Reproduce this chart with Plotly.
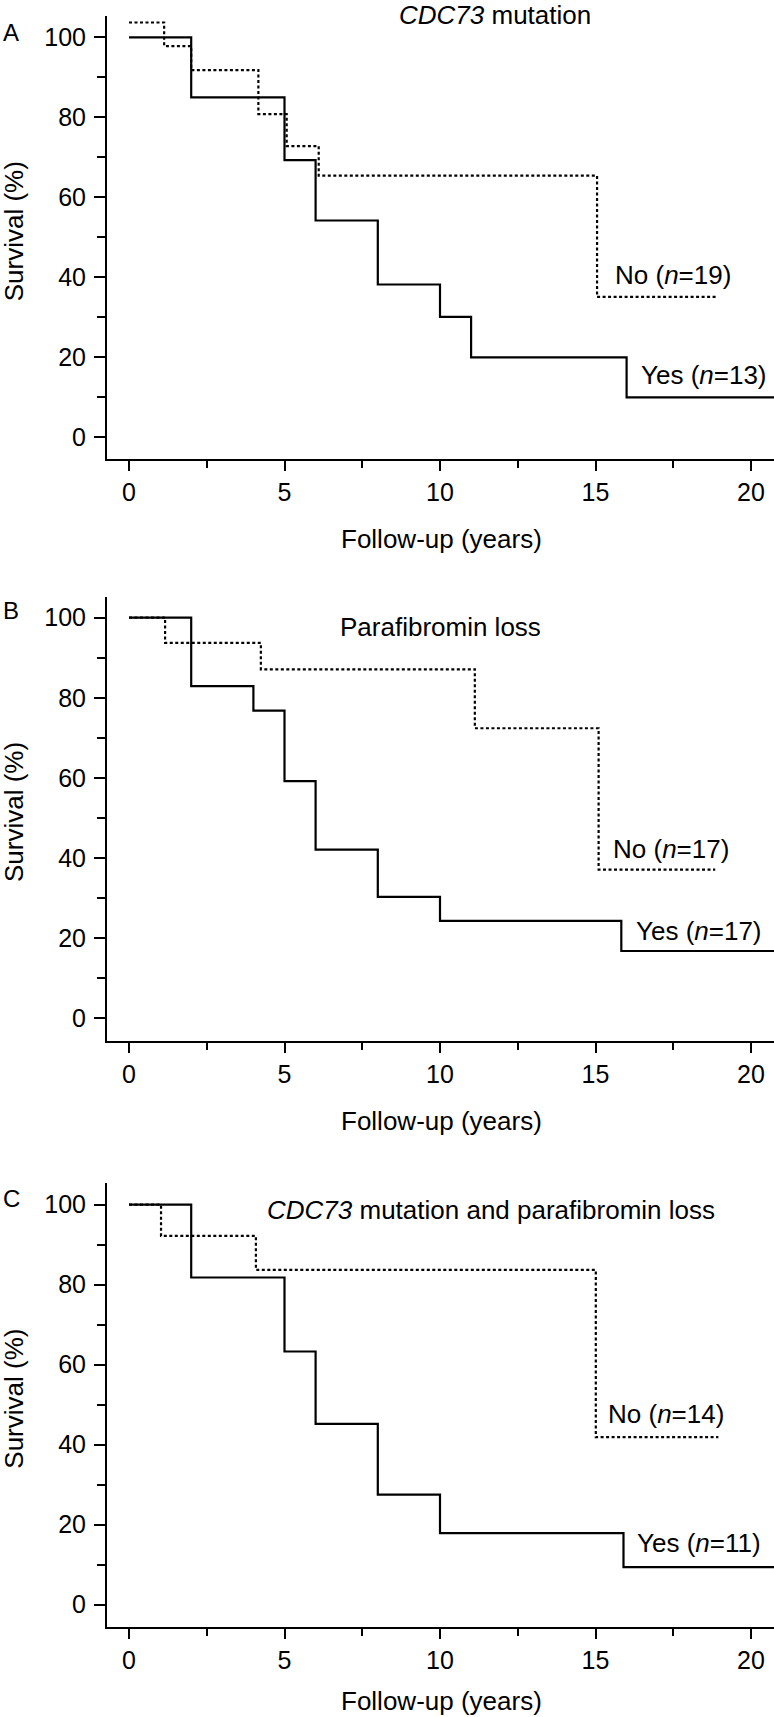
import plotly.graph_objects as go

# ---------------- data ----------------
# Panel A: CDC73 mutation
a_yes_t = [0, 2, 5, 6, 8, 10, 11, 16, 21]
a_yes_s = [100, 85, 69.3, 54.2, 38.2, 30.1, 20, 10, 10]
a_no_t = [0, 1.13, 2.0, 4.16, 5.07, 6.1, 15.05, 18.9]
a_no_s = [103.7, 97.8, 91.8, 80.8, 72.8, 65.4, 35.1, 35.1]

# Panel B: Parafibromin loss
b_yes_t = [0, 2, 4, 5, 6, 8, 10, 15.83, 21]
b_yes_s = [100, 82.9, 76.8, 59.2, 42.1, 30.3, 24.3, 16.8, 16.8]
b_no_t = [0, 1.16, 4.24, 11.12, 15.1, 18.85]
b_no_s = [100, 93.7, 87.1, 72.4, 37.1, 37.1]

# Panel C: CDC73 mutation and parafibromin loss
c_yes_t = [0, 2, 5, 6, 8, 10, 15.9, 21]
c_yes_s = [100, 81.8, 63.3, 45.2, 27.5, 17.9, 9.4, 9.4]
c_no_t = [0, 1.03, 4.08, 15.01, 18.95]
c_no_s = [100, 92.2, 83.7, 41.9, 41.9]

panel_letters = ["A", "B", "C"]
panel_titles = ["<i>CDC73</i> mutation", "Parafibromin loss",
                "<i>CDC73</i> mutation and parafibromin loss"]
no_labels = ["No (<i>n</i>=19)", "No (<i>n</i>=17)", "No (<i>n</i>=14)"]
yes_labels = ["Yes (<i>n</i>=13)", "Yes (<i>n</i>=17)", "Yes (<i>n</i>=11)"]
x_ticks = [0, 5, 10, 15, 20]
y_ticks = [0, 20, 40, 60, 80, 100]
x_title = "Follow-up (years)"
y_title = "Survival (%)"

# ---------------- layout geometry ----------------
W, H = 774, 1717
FONT = "Liberation Sans, Arial, Helvetica, sans-serif"
boxes = [(16, 459.3), (596.7, 1040.7), (1183.3, 1627.0)]
zero_px = [437.3, 1018.3, 1604.7]
px_per_unit = [4.0, 4.006, 4.0]
x_left_px, x0_px, px_per_year = 107, 129, 31.1
x_title_off = [80, 80, 74]

x_range = [(x_left_px - x0_px) / px_per_year, (W - x0_px) / px_per_year]

fig = go.Figure()

series = [
    (a_yes_t, a_yes_s, a_no_t, a_no_s),
    (b_yes_t, b_yes_s, b_no_t, b_no_s),
    (c_yes_t, c_yes_s, c_no_t, c_no_s),
]

title_px = [(397, 15), (338, 627), (265, 1210)]
no_pos = [(15.56, 40.6), (15.5, 42.2), (15.34, 47.7)]
yes_pos = [(16.4, 15.6), (16.24, 21.9), (16.27, 15.35)]
letter_py = [32, 610, 1198]

annotations = []
for i, (yt, ys, nt, ns) in enumerate(series):
    k = "" if i == 0 else str(i + 1)
    xa, ya = "x" + k, "y" + k
    fig.add_trace(go.Scatter(x=nt, y=ns, mode="lines", line_shape="hv",
                             line=dict(color="black", width=2.2, dash="3px,2.5px"),
                             xaxis=xa, yaxis=ya, showlegend=False, hoverinfo="skip"))
    fig.add_trace(go.Scatter(x=yt, y=ys, mode="lines", line_shape="hv",
                             line=dict(color="black", width=2.2),
                             xaxis=xa, yaxis=ya, showlegend=False, hoverinfo="skip"))
    top, bot = boxes[i]
    z = zero_px[i]
    ppu = px_per_unit[i]
    y_range = [(z - bot) / ppu, (z - top) / ppu]
    axis_common = dict(showline=True, linewidth=2, linecolor="black",
                       ticks="outside", tickwidth=2, tickcolor="black",
                       showgrid=False, zeroline=False,
                       tickfont=dict(family=FONT, size=25, color="black"))
    fig.layout["xaxis" + k] = dict(
        domain=[x_left_px / W, 1.0], range=x_range, anchor=ya,
        tickmode="array", tickvals=x_ticks, ticktext=[str(v) for v in x_ticks],
        ticklen=10, ticklabelstandoff=0,
        minor=dict(dtick=2.5, tick0=0, ticks="outside", ticklen=7, tickwidth=2,
                   tickcolor="black", showgrid=False),
        **axis_common)
    fig.layout["yaxis" + k] = dict(
        domain=[1 - bot / H, 1 - top / H], range=y_range, anchor=xa,
        tickmode="array", tickvals=y_ticks, ticktext=[str(v) for v in y_ticks],
        ticklen=11, ticklabelstandoff=3,
        minor=dict(dtick=10, tick0=0, ticks="outside", ticklen=8, tickwidth=2,
                   tickcolor="black", showgrid=False),
        **axis_common)

    txt = dict(family=FONT, size=26, color="black")
    annotations.append(dict(x=title_px[i][0] / W, y=1 - title_px[i][1] / H,
                            xref="paper", yref="paper",
                            text=panel_titles[i], showarrow=False, xanchor="left",
                            yanchor="middle", font=txt))
    annotations.append(dict(x=no_pos[i][0], y=no_pos[i][1], xref=xa, yref=ya,
                            text=no_labels[i], showarrow=False, xanchor="left",
                            yanchor="middle", font=txt))
    annotations.append(dict(x=yes_pos[i][0], y=yes_pos[i][1], xref=xa, yref=ya,
                            text=yes_labels[i], showarrow=False, xanchor="left",
                            yanchor="middle", font=txt))
    annotations.append(dict(x=14 / W, y=51.5, xref="paper", yref=ya,
                            text=y_title, textangle=-90, showarrow=False,
                            xanchor="center", yanchor="middle", font=txt))
    annotations.append(dict(x=441 / W, y=1 - (bot + x_title_off[i]) / H,
                            xref="paper", yref="paper",
                            text=x_title, showarrow=False,
                            xanchor="center", yanchor="middle", font=txt))
    annotations.append(dict(x=1 / W, y=1 - letter_py[i] / H, xref="paper", yref="paper",
                            text=panel_letters[i], showarrow=False,
                            xanchor="left", yanchor="middle",
                            font=dict(family=FONT, size=24, color="black")))

fig.update_layout(width=W, height=H, margin=dict(l=0, r=0, t=0, b=0),
                  paper_bgcolor="white", plot_bgcolor="white",
                  annotations=annotations, showlegend=False)

fig.write_html("out.html", config={"displayModeBar": False},
               post_script="document.body.style.margin='0';document.body.style.padding='0';"
                           "document.documentElement.style.overflow='hidden';")
